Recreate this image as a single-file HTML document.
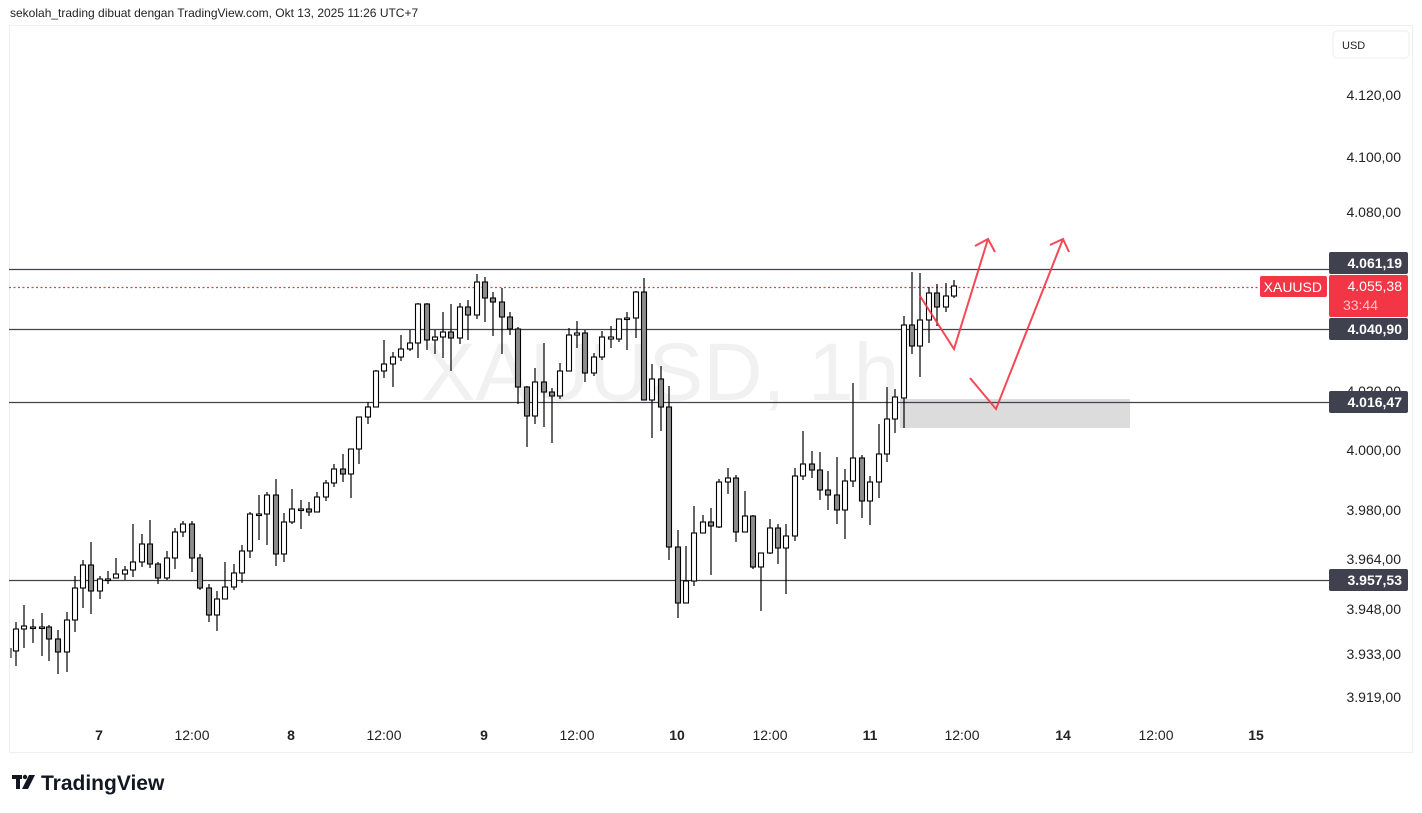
<!DOCTYPE html>
<html><head><meta charset="utf-8"><style>
html,body{margin:0;padding:0;background:#fff;width:1422px;height:813px;overflow:hidden;font-family:"Liberation Sans",sans-serif}
</style></head><body>
<svg id="s" width="1422" height="813" xmlns="http://www.w3.org/2000/svg" style="position:absolute;left:0;top:0">
<text x="10" y="17" font-size="12" fill="#222" font-family="Liberation Sans,sans-serif">sekolah_trading dibuat dengan TradingView.com, Okt 13, 2025 11:26 UTC+7</text>
<rect x="9.5" y="25.5" width="1403" height="727" fill="#fff" stroke="#eeeeee"/>
<text x="660" y="400" font-size="82" fill="#f1f1f1" text-anchor="middle" font-family="Liberation Sans,sans-serif">XAUUSD, 1h</text>
<rect x="1333" y="31" width="76" height="27" rx="4" fill="#fff" stroke="#eee"/>
<text x="1342" y="49" font-size="11" fill="#222">USD</text>
<g font-size="14" fill="#222" text-anchor="end">
<text x="1401" y="100">4.120,00</text>
<text x="1401" y="162">4.100,00</text>
<text x="1401" y="217">4.080,00</text>
<text x="1401" y="396">4.020,00</text>
<text x="1401" y="455">4.000,00</text>
<text x="1401" y="515">3.980,00</text>
<text x="1401" y="564">3.964,00</text>
<text x="1401" y="614">3.948,00</text>
<text x="1401" y="659">3.933,00</text>
<text x="1401" y="702">3.919,00</text>
</g>
<g font-size="14" fill="#222" text-anchor="middle">
<text x="99" y="740" font-weight="bold">7</text>
<text x="192" y="740">12:00</text>
<text x="291" y="740" font-weight="bold">8</text>
<text x="384" y="740">12:00</text>
<text x="484" y="740" font-weight="bold">9</text>
<text x="577" y="740">12:00</text>
<text x="677" y="740" font-weight="bold">10</text>
<text x="770" y="740">12:00</text>
<text x="870" y="740" font-weight="bold">11</text>
<text x="962" y="740">12:00</text>
<text x="1063" y="740" font-weight="bold">14</text>
<text x="1156" y="740">12:00</text>
<text x="1256" y="740" font-weight="bold">15</text>
</g>
<rect x="900" y="399" width="230" height="29" fill="#dcdcdc"/>
<g stroke="#43434d" stroke-width="1.2">
<line x1="9" y1="269.5" x2="1329" y2="269.5"/>
<line x1="9" y1="329.5" x2="1329" y2="329.5"/>
<line x1="9" y1="402.5" x2="1329" y2="402.5"/>
<line x1="9" y1="580.5" x2="1329" y2="580.5"/>
</g>
<line x1="9" y1="287.5" x2="1260" y2="287.5" stroke="#f23645" stroke-width="1.2" stroke-dasharray="2,2.5"/>
<g id="c"></g>
<g fill="none" stroke="#f23645" stroke-width="2" opacity="0.9" stroke-linejoin="miter">
<polyline points="920,296 954,349 988,239"/>
<polyline points="975,246 988,239 995,252"/>
<polyline points="970,378 996,409 1063,239"/>
<polyline points="1050,245 1063,239 1069,252"/>
</g>
<g font-size="14" font-weight="bold" fill="#fff" text-anchor="end">
<rect x="1329" y="252" width="79" height="22" rx="2" fill="#3f414f"/>
<text x="1402" y="268">4.061,19</text>
<rect x="1329" y="275" width="79" height="42" rx="2" fill="#f23645"/>
<text x="1402" y="291" font-weight="normal">4.055,38</text>
<text x="1378" y="310" font-weight="normal" fill="#fbc4c8">33:44</text>
<rect x="1260" y="276" width="67" height="21" rx="2" fill="#f23645"/>
<text x="1322" y="292" font-weight="normal">XAUUSD</text>
<rect x="1329" y="318" width="79" height="22" rx="2" fill="#3f414f"/>
<text x="1402" y="334">4.040,90</text>
<rect x="1329" y="391" width="79" height="22" rx="2" fill="#3f414f"/>
<text x="1402" y="407">4.016,47</text>
<rect x="1329" y="569" width="79" height="22" rx="2" fill="#3f414f"/>
<text x="1402" y="585">3.957,53</text>
</g>
<g fill="#131722">
<rect x="12" y="775" width="10" height="4"/><rect x="16" y="775" width="4" height="14"/>
<circle cx="25" cy="777" r="2.2"/><polygon points="29,775 35,775 28,789 22,789"/>
<text x="41" y="790" font-size="21" font-weight="bold" font-family="Liberation Sans,sans-serif">TradingView</text>
</g>
</svg>
<script>
var d=[[16,622,651,629,666],[24,605,629,626,648],[33,619,627,627,643],[42,613,627,627,656],[49,625,627,639,661],[58,630,639,652,674],[67,612,652,620,672],[75,576,620,588,632],[83,560,588,565,608],[91,542,565,591,614],[100,576,591,579,599],[108,571,579,579,584],[116,558,578,574,578],[125,566,574,570,580],[133,524,570,562,577],[142,534,562,544,567],[150,520,544,564,568],[158,562,564,578,584],[167,551,578,558,580],[175,528,558,532,569],[183,521,532,524,537],[192,521,524,558,572],[200,554,558,588,590],[209,584,588,615,622],[217,591,615,599,631],[225,562,599,587,599],[234,564,587,573,590],[242,545,573,551,583],[250,512,551,514,558],[259,495,514,514,540],[267,492,514,495,545],[276,479,495,554,566],[284,513,554,522,562],[292,489,522,509,524],[301,500,509,509,529],[309,502,509,512,516],[317,492,512,497,512],[326,480,497,483,501],[334,464,483,469,487],[343,454,469,474,482],[351,449,474,449,498],[359,417,449,417,464],[368,402,417,407,424],[376,370,407,371,407],[384,340,371,364,378],[393,352,364,357,387],[401,335,357,349,361],[410,330,349,343,351],[418,303,343,304,358],[427,303,304,340,350],[435,330,340,337,354],[443,312,337,332,358],[451,304,332,338,371],[460,303,338,307,344],[468,300,307,315,340],[477,274,315,282,319],[485,277,282,298,322],[493,292,298,302,336],[502,288,302,317,354],[510,312,317,329,335],[518,327,329,387,404],[527,386,387,416,447],[535,368,416,382,424],[544,343,382,392,427],[552,388,392,396,443],[560,363,396,371,399],[569,328,371,335,371],[577,321,335,333,348],[585,330,333,373,382],[594,353,373,357,376],[602,331,357,337,360],[611,326,339,337,348],[619,319,339,319,342],[627,312,318,318,350],[636,291,318,292,338],[644,278,292,400,400],[652,364,400,379,438],[661,366,379,407,431],[669,386,407,547,560],[678,530,547,603,618],[686,546,603,581,603],[694,506,581,533,586],[703,515,533,522,533],[711,508,522,526,575],[719,479,527,482,528],[728,468,482,478,494],[736,475,478,532,542],[745,491,532,516,532],[753,515,516,567,569],[761,553,567,553,611],[770,519,553,528,554],[778,524,528,548,564],[786,524,548,536,594],[795,468,536,476,541],[803,431,476,464,480],[812,451,464,470,478],[820,452,470,490,500],[828,471,490,495,510],[837,457,495,510,524],[845,469,510,481,539],[853,383,481,458,487],[862,455,458,501,518],[870,476,501,482,525],[879,424,482,454,498],[887,387,454,419,462],[895,389,419,397,433],[904,316,398,325,428],[912,272,325,346,354],[920,273,346,320,377],[929,287,320,293,343],[937,284,293,307,326],[946,283,307,296,312],[954,280,296,286,298]];
var h='<line x1="11" y1="648" x2="11" y2="658" stroke="#555" stroke-width="1.5"/>';
d.forEach(function(c){var x=c[0],hi=c[1],o=c[2],cl=c[3],lo=c[4];var bear=cl>o;var t=Math.min(o,cl),b=Math.max(o,cl);if(b-t<1.5){b=t+1.5;}
h+='<line x1="'+x+'" y1="'+hi+'" x2="'+x+'" y2="'+lo+'" stroke="#000" stroke-width="1.2"/>';
h+='<rect x="'+(x-2.5)+'" y="'+t+'" width="5" height="'+(b-t)+'" fill="'+(bear?'#8c8c8c':'#fff')+'" stroke="#000" stroke-width="1.1"/>';});
document.getElementById('c').innerHTML=h;
</script>
</body></html>
